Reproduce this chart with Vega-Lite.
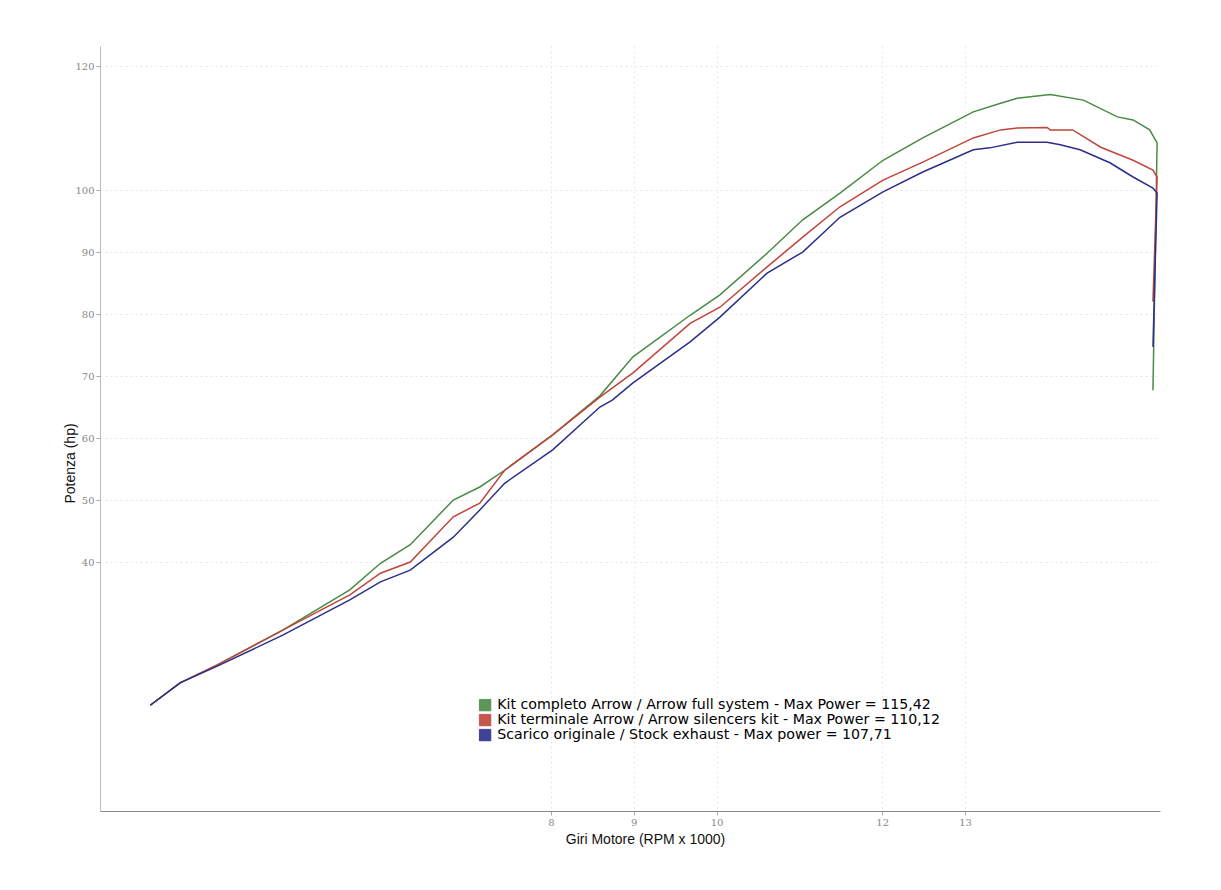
{
  "$schema": "https://vega.github.io/schema/vega-lite/v6.json",
  "width": 1060,
  "height": 765,
  "autosize": {"type": "none"},
  "padding": {"left": 100, "top": 46, "right": 61, "bottom": 79},
  "background": "white",
  "config": {"view": {"stroke": null}},
  "data": {
    "values": [
      {"serie": "G", "rpm": 3.16, "hp": 16.9},
      {"serie": "G", "rpm": 3.52, "hp": 20.5},
      {"serie": "G", "rpm": 3.97, "hp": 23.4},
      {"serie": "G", "rpm": 4.76, "hp": 29.0},
      {"serie": "G", "rpm": 5.57, "hp": 35.5},
      {"serie": "G", "rpm": 5.94, "hp": 39.8},
      {"serie": "G", "rpm": 6.30, "hp": 42.8},
      {"serie": "G", "rpm": 6.82, "hp": 50.0},
      {"serie": "G", "rpm": 7.14, "hp": 52.1},
      {"serie": "G", "rpm": 7.44, "hp": 54.8},
      {"serie": "G", "rpm": 8.02, "hp": 60.5},
      {"serie": "G", "rpm": 8.59, "hp": 66.8},
      {"serie": "G", "rpm": 8.99, "hp": 73.1},
      {"serie": "G", "rpm": 9.68, "hp": 79.8},
      {"serie": "G", "rpm": 10.04, "hp": 83.1},
      {"serie": "G", "rpm": 10.61, "hp": 89.8},
      {"serie": "G", "rpm": 11.04, "hp": 95.2},
      {"serie": "G", "rpm": 11.49, "hp": 99.5},
      {"serie": "G", "rpm": 12.01, "hp": 104.8},
      {"serie": "G", "rpm": 12.49, "hp": 108.4},
      {"serie": "G", "rpm": 13.10, "hp": 112.6},
      {"serie": "G", "rpm": 13.43, "hp": 114.0},
      {"serie": "G", "rpm": 13.63, "hp": 114.8},
      {"serie": "G", "rpm": 14.03, "hp": 115.4},
      {"serie": "G", "rpm": 14.43, "hp": 114.5},
      {"serie": "G", "rpm": 14.84, "hp": 111.8},
      {"serie": "G", "rpm": 15.03, "hp": 111.3},
      {"serie": "G", "rpm": 15.23, "hp": 109.7},
      {"serie": "G", "rpm": 15.32, "hp": 107.6},
      {"serie": "G", "rpm": 15.27, "hp": 67.7},
      {"serie": "R", "rpm": 3.16, "hp": 16.9},
      {"serie": "R", "rpm": 3.52, "hp": 20.5},
      {"serie": "R", "rpm": 3.97, "hp": 23.4},
      {"serie": "R", "rpm": 4.76, "hp": 29.0},
      {"serie": "R", "rpm": 5.57, "hp": 34.7},
      {"serie": "R", "rpm": 5.94, "hp": 38.2},
      {"serie": "R", "rpm": 6.30, "hp": 40.0},
      {"serie": "R", "rpm": 6.82, "hp": 47.3},
      {"serie": "R", "rpm": 7.14, "hp": 49.5},
      {"serie": "R", "rpm": 7.44, "hp": 54.8},
      {"serie": "R", "rpm": 8.02, "hp": 60.5},
      {"serie": "R", "rpm": 8.59, "hp": 66.6},
      {"serie": "R", "rpm": 8.99, "hp": 70.5},
      {"serie": "R", "rpm": 9.68, "hp": 78.5},
      {"serie": "R", "rpm": 10.04, "hp": 81.1},
      {"serie": "R", "rpm": 10.61, "hp": 87.6},
      {"serie": "R", "rpm": 11.04, "hp": 92.4},
      {"serie": "R", "rpm": 11.49, "hp": 97.3},
      {"serie": "R", "rpm": 12.01, "hp": 101.6},
      {"serie": "R", "rpm": 12.49, "hp": 104.5},
      {"serie": "R", "rpm": 13.10, "hp": 108.4},
      {"serie": "R", "rpm": 13.43, "hp": 109.7},
      {"serie": "R", "rpm": 13.63, "hp": 110.0},
      {"serie": "R", "rpm": 13.99, "hp": 110.1},
      {"serie": "R", "rpm": 14.03, "hp": 109.7},
      {"serie": "R", "rpm": 14.30, "hp": 109.7},
      {"serie": "R", "rpm": 14.64, "hp": 106.9},
      {"serie": "R", "rpm": 15.03, "hp": 104.8},
      {"serie": "R", "rpm": 15.27, "hp": 103.2},
      {"serie": "R", "rpm": 15.32, "hp": 102.1},
      {"serie": "R", "rpm": 15.27, "hp": 82.0},
      {"serie": "B", "rpm": 3.16, "hp": 16.9},
      {"serie": "B", "rpm": 3.52, "hp": 20.5},
      {"serie": "B", "rpm": 3.97, "hp": 23.2},
      {"serie": "B", "rpm": 4.76, "hp": 28.2},
      {"serie": "B", "rpm": 5.57, "hp": 33.9},
      {"serie": "B", "rpm": 5.94, "hp": 36.8},
      {"serie": "B", "rpm": 6.30, "hp": 38.7},
      {"serie": "B", "rpm": 6.82, "hp": 44.0},
      {"serie": "B", "rpm": 7.14, "hp": 48.4},
      {"serie": "B", "rpm": 7.44, "hp": 52.7},
      {"serie": "B", "rpm": 8.02, "hp": 58.1},
      {"serie": "B", "rpm": 8.59, "hp": 65.0},
      {"serie": "B", "rpm": 8.74, "hp": 66.1},
      {"serie": "B", "rpm": 8.99, "hp": 68.9},
      {"serie": "B", "rpm": 9.68, "hp": 75.5},
      {"serie": "B", "rpm": 10.04, "hp": 79.5},
      {"serie": "B", "rpm": 10.61, "hp": 86.6},
      {"serie": "B", "rpm": 11.04, "hp": 90.0},
      {"serie": "B", "rpm": 11.49, "hp": 95.6},
      {"serie": "B", "rpm": 12.01, "hp": 99.7},
      {"serie": "B", "rpm": 12.49, "hp": 102.9},
      {"serie": "B", "rpm": 13.10, "hp": 106.5},
      {"serie": "B", "rpm": 13.30, "hp": 106.8},
      {"serie": "B", "rpm": 13.63, "hp": 107.7},
      {"serie": "B", "rpm": 13.99, "hp": 107.7},
      {"serie": "B", "rpm": 14.15, "hp": 107.3},
      {"serie": "B", "rpm": 14.39, "hp": 106.5},
      {"serie": "B", "rpm": 14.75, "hp": 104.4},
      {"serie": "B", "rpm": 15.03, "hp": 102.1},
      {"serie": "B", "rpm": 15.27, "hp": 100.3},
      {"serie": "B", "rpm": 15.32, "hp": 99.5},
      {"serie": "B", "rpm": 15.27, "hp": 74.7}
    ]
  },
  "mark": {"type": "line", "strokeWidth": 1.5},
  "encoding": {
    "x": {
      "field": "rpm",
      "type": "quantitative",
      "scale": {"domain": [2.553, 15.355], "nice": false, "zero": false},
      "axis": {
        "values": [8, 9, 10, 12, 13],
        "labelFont": "DejaVu Serif",
        "labelFontSize": 10,
        "labelColor": "#888888",
        "labelPadding": 2,
        "tickColor": "#aaaaaa",
        "tickSize": 4,
        "domainColor": "#888888",
        "grid": true,
        "gridColor": "#e6e6e6",
        "gridDash": [2, 3],
        "title": "Giri Motore (RPM x 1000)",
        "titleFont": "Liberation Sans",
        "titleFontSize": 14,
        "titleFontWeight": "normal",
        "titleColor": "#111111",
        "titleX": 545,
        "titleY": 21,
        "titleAlign": "center",
        "titleBaseline": "top"
      }
    },
    "y": {
      "field": "hp",
      "type": "quantitative",
      "scale": {"domain": [-0.16, 123.23], "nice": false, "zero": false},
      "axis": {
        "values": [40, 50, 60, 70, 80, 90, 100, 120],
        "labelFont": "DejaVu Serif",
        "labelFontSize": 10,
        "labelColor": "#888888",
        "labelPadding": 2,
        "tickColor": "#aaaaaa",
        "tickSize": 4,
        "domainColor": "#bbbbbb",
        "grid": true,
        "gridColor": "#e6e6e6",
        "gridDash": [2, 3],
        "title": "Potenza (hp)",
        "titleFont": "Liberation Sans",
        "titleFontSize": 14,
        "titleFontWeight": "normal",
        "titleColor": "#111111",
        "titleX": -30,
        "titleY": 417,
        "titleAlign": "center",
        "titleBaseline": "middle"
      }
    },
    "color": {
      "field": "serie",
      "type": "nominal",
      "scale": {
        "domain": ["G", "R", "B"],
        "range": ["#4a8a45", "#c0453a", "#2b2f8a"]
      },
      "legend": {
        "orient": "none",
        "legendX": 378,
        "legendY": 652,
        "title": null,
        "padding": 0,
        "rowPadding": -1.5,
        "symbolType": "square",
        "symbolSize": 130,
        "labelOffset": 5,
        "labelLimit": 0,
        "labelFont": "DejaVu Sans",
        "labelFontSize": 14.2,
        "labelFontWeight": "normal",
        "labelColor": "#000000",
        "labelExpr": "datum.value == 'G' ? 'Kit completo Arrow / Arrow full system - Max Power = 115,42' : datum.value == 'R' ? 'Kit terminale Arrow / Arrow silencers kit - Max Power = 110,12' : 'Scarico originale / Stock exhaust - Max power = 107,71'",
        "encode": {
          "symbols": {
            "update": {
              "fill": {"scale": "color", "field": "value"},
              "fillOpacity": {"value": 0.9},
              "stroke": {"value": "#333333"},
              "strokeWidth": {"value": 0.8}
            }
          }
        }
      }
    },
    "order": {"value": null}
  }
}
